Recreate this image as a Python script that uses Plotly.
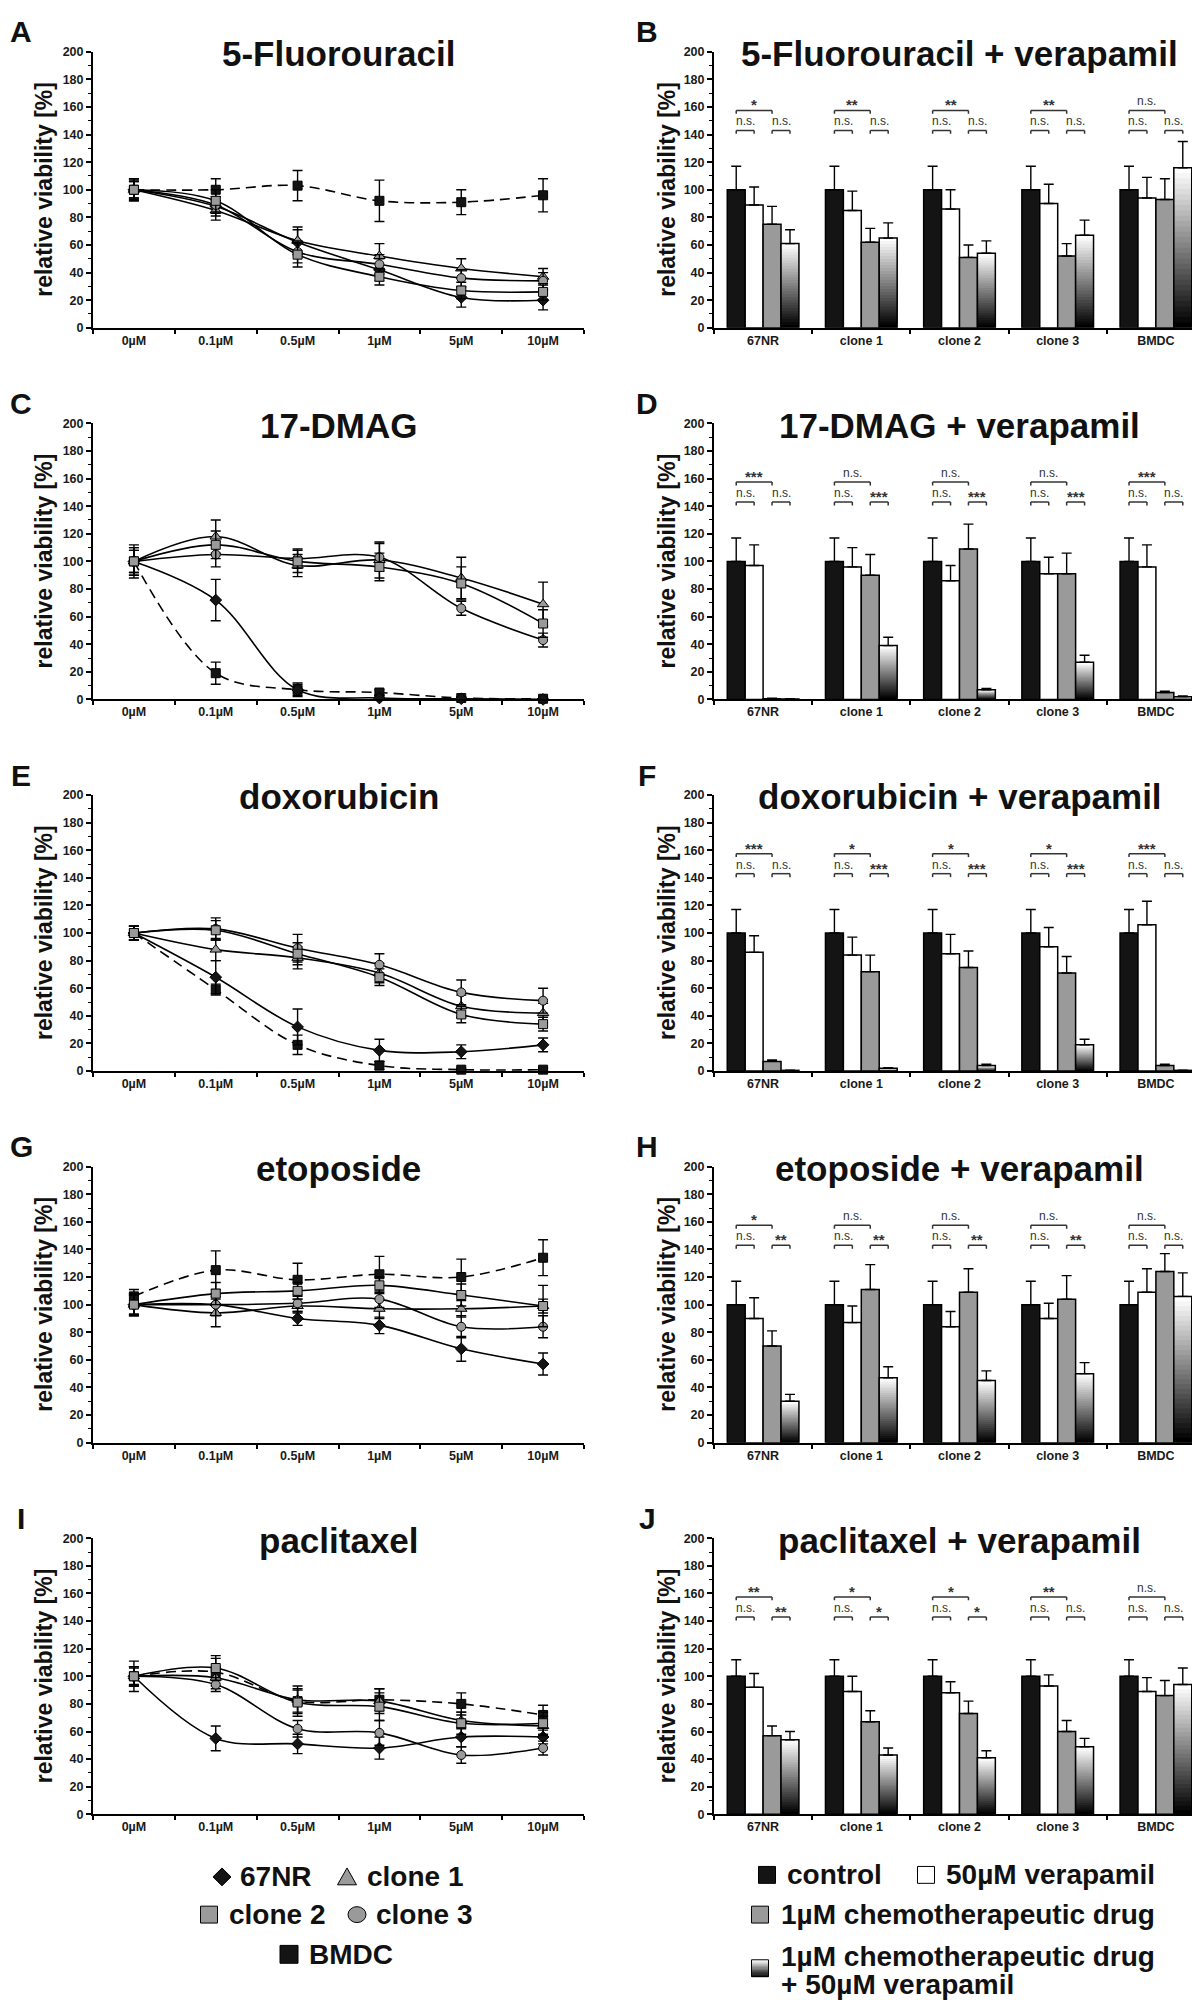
import plotly.graph_objects as go

W, H = 1200, 2000
FONT = "Liberation Sans"

# ------------------------------------------------------------------ data
DOSES = ["0µM", "0.1µM", "0.5µM", "1µM", "5µM", "10µM"]
CELL_LINES = ["67NR", "clone 1", "clone 2", "clone 3", "BMDC"]
TREATMENTS = ["control", "50µM verapamil", "1µM chemotherapeutic drug",
              "1µM chemotherapeutic drug + 50µM verapamil"]

# dose response: relative viability [%] (mean) and SD
FU_MEAN = {"67NR": [100, 88, 62, 42, 22, 20], "clone 1": [100, 85, 63, 52, 43, 37],
           "clone 2": [100, 92, 53, 37, 27, 26], "clone 3": [100, 89, 55, 46, 36, 34],
           "BMDC": [100, 100, 103, 92, 91, 96]}
FU_ERR = {"67NR": [6, 7, 9, 8, 7, 7], "clone 1": [7, 7, 10, 9, 7, 6],
          "clone 2": [8, 8, 9, 6, 6, 6], "clone 3": [6, 6, 8, 7, 6, 6],
          "BMDC": [8, 8, 11, 15, 9, 12]}

DMAG_MEAN = {"67NR": [100, 72, 7, 1, 0.5, 0], "clone 1": [100, 118, 97, 101, 88, 69],
             "clone 2": [100, 112, 100, 96, 84, 55], "clone 3": [100, 105, 102, 103, 66, 43],
             "BMDC": [100, 19, 7, 5, 1, 0.5]}
DMAG_ERR = {"67NR": [12, 15, 5, 2, 1, 1], "clone 1": [10, 12, 8, 13, 15, 16],
            "clone 2": [8, 10, 8, 10, 12, 10], "clone 3": [8, 9, 7, 10, 5, 5],
            "BMDC": [10, 8, 4, 2, 1, 1]}

DOXO_MEAN = {"67NR": [100, 68, 32, 15, 14, 19], "clone 1": [100, 88, 82, 71, 47, 42],
             "clone 2": [100, 102, 85, 68, 41, 34], "clone 3": [100, 103, 89, 77, 57, 51],
             "BMDC": [100, 59, 19, 4, 1, 1]}
DOXO_ERR = {"67NR": [5, 12, 13, 8, 5, 5], "clone 1": [5, 8, 8, 7, 8, 7],
            "clone 2": [5, 7, 8, 6, 6, 5], "clone 3": [5, 8, 10, 8, 9, 9],
            "BMDC": [5, 4, 7, 3, 1, 1]}

ETO_MEAN = {"67NR": [100, 100, 90, 85, 68, 57], "clone 1": [100, 94, 99, 97, 97, 99],
            "clone 2": [100, 108, 110, 114, 107, 99], "clone 3": [100, 100, 101, 104, 84, 84],
            "BMDC": [106, 125, 118, 122, 120, 134]}
ETO_ERR = {"67NR": [7, 6, 5, 6, 9, 8], "clone 1": [8, 10, 5, 7, 6, 5],
           "clone 2": [8, 8, 6, 6, 8, 15], "clone 3": [7, 8, 6, 6, 8, 8],
           "BMDC": [5, 14, 12, 13, 13, 13]}

PACLI_MEAN = {"67NR": [100, 55, 51, 48, 56, 56], "clone 1": [100, 99, 83, 82, 68, 64],
              "clone 2": [100, 106, 81, 78, 66, 66], "clone 3": [100, 94, 62, 59, 43, 48],
              "BMDC": [100, 103, 82, 83, 80, 72]}
PACLI_ERR = {"67NR": [11, 9, 7, 8, 7, 5], "clone 1": [7, 8, 10, 9, 6, 7],
             "clone 2": [7, 9, 10, 10, 8, 8], "clone 3": [6, 5, 6, 9, 6, 5],
             "BMDC": [7, 10, 8, 8, 8, 7]}

# verapamil combination bars (per cell line)
FU_VERA_MEAN = {"control": [100, 100, 100, 100, 100], "50µM verapamil": [89, 85, 86, 90, 94],
                "1µM chemotherapeutic drug": [75, 62, 51, 52, 93],
                "1µM chemotherapeutic drug + 50µM verapamil": [61, 65, 54, 67, 116]}
FU_VERA_ERR = {"control": [17, 17, 17, 17, 17], "50µM verapamil": [13, 14, 14, 14, 15],
               "1µM chemotherapeutic drug": [13, 10, 9, 9, 15],
               "1µM chemotherapeutic drug + 50µM verapamil": [10, 11, 9, 11, 19]}
FU_VERA_SIG = [("*", "n.s.", "n.s."), ("**", "n.s.", "n.s."), ("**", "n.s.", "n.s."),
               ("**", "n.s.", "n.s."), ("n.s.", "n.s.", "n.s.")]

DMAG_VERA_MEAN = {"control": [100, 100, 100, 100, 100], "50µM verapamil": [97, 96, 86, 91, 96],
                  "1µM chemotherapeutic drug": [0.5, 90, 109, 91, 5],
                  "1µM chemotherapeutic drug + 50µM verapamil": [0.3, 39, 7, 27, 2]}
DMAG_VERA_ERR = {"control": [17, 17, 17, 17, 17], "50µM verapamil": [15, 14, 11, 12, 16],
                 "1µM chemotherapeutic drug": [0.3, 15, 18, 15, 1],
                 "1µM chemotherapeutic drug + 50µM verapamil": [0.2, 6, 1, 5, 0.5]}
DMAG_VERA_SIG = [("***", "n.s.", "n.s."), ("n.s.", "n.s.", "***"), ("n.s.", "n.s.", "***"),
                 ("n.s.", "n.s.", "***"), ("***", "n.s.", "n.s.")]

DOXO_VERA_MEAN = {"control": [100, 100, 100, 100, 100], "50µM verapamil": [86, 84, 85, 90, 106],
                  "1µM chemotherapeutic drug": [7, 72, 75, 71, 4],
                  "1µM chemotherapeutic drug + 50µM verapamil": [0.5, 2, 4, 19, 0.5]}
DOXO_VERA_ERR = {"control": [17, 17, 17, 17, 17], "50µM verapamil": [12, 13, 14, 14, 17],
                 "1µM chemotherapeutic drug": [1, 12, 12, 12, 1],
                 "1µM chemotherapeutic drug + 50µM verapamil": [0.2, 0.5, 1, 4, 0.2]}
DOXO_VERA_SIG = [("***", "n.s.", "n.s."), ("*", "n.s.", "***"), ("*", "n.s.", "***"),
                 ("*", "n.s.", "***"), ("***", "n.s.", "n.s.")]

ETO_VERA_MEAN = {"control": [100, 100, 100, 100, 100], "50µM verapamil": [90, 87, 84, 90, 109],
                 "1µM chemotherapeutic drug": [70, 111, 109, 104, 124],
                 "1µM chemotherapeutic drug + 50µM verapamil": [30, 47, 45, 50, 106]}
ETO_VERA_ERR = {"control": [17, 17, 17, 17, 17], "50µM verapamil": [15, 12, 11, 11, 17],
                "1µM chemotherapeutic drug": [11, 18, 17, 17, 13],
                "1µM chemotherapeutic drug + 50µM verapamil": [5, 8, 7, 8, 17]}
ETO_VERA_SIG = [("*", "n.s.", "**"), ("n.s.", "n.s.", "**"), ("n.s.", "n.s.", "**"),
                ("n.s.", "n.s.", "**"), ("n.s.", "n.s.", "n.s.")]

PACLI_VERA_MEAN = {"control": [100, 100, 100, 100, 100], "50µM verapamil": [92, 89, 88, 93, 89],
                   "1µM chemotherapeutic drug": [57, 67, 73, 60, 86],
                   "1µM chemotherapeutic drug + 50µM verapamil": [54, 43, 41, 49, 94]}
PACLI_VERA_ERR = {"control": [12, 12, 12, 12, 12], "50µM verapamil": [10, 11, 8, 8, 10],
                  "1µM chemotherapeutic drug": [7, 8, 9, 8, 11],
                  "1µM chemotherapeutic drug + 50µM verapamil": [6, 5, 5, 6, 12]}
PACLI_VERA_SIG = [("**", "n.s.", "**"), ("*", "n.s.", "*"), ("*", "n.s.", "*"),
                  ("**", "n.s.", "n.s."), ("n.s.", "n.s.", "n.s.")]

LINE_TITLES = ["5-Fluorouracil", "17-DMAG", "doxorubicin", "etoposide", "paclitaxel"]
LETTERS = ["A", "B", "C", "D", "E", "F", "G", "H", "I", "J"]

LINE_PANELS = [(FU_MEAN, FU_ERR), (DMAG_MEAN, DMAG_ERR), (DOXO_MEAN, DOXO_ERR),
               (ETO_MEAN, ETO_ERR), (PACLI_MEAN, PACLI_ERR)]
BAR_PANELS = [(FU_VERA_MEAN, FU_VERA_ERR, FU_VERA_SIG),
              (DMAG_VERA_MEAN, DMAG_VERA_ERR, DMAG_VERA_SIG),
              (DOXO_VERA_MEAN, DOXO_VERA_ERR, DOXO_VERA_SIG),
              (ETO_VERA_MEAN, ETO_VERA_ERR, ETO_VERA_SIG),
              (PACLI_VERA_MEAN, PACLI_VERA_ERR, PACLI_VERA_SIG)]

# ------------------------------------------------------------------ style
GREY = "#9a9a9a"
DARK = "#141414"
STYLE = {
    "67NR": dict(symbol="diamond", fill=DARK, size=9, dash="solid"),
    "clone 1": dict(symbol="triangle-up", fill=GREY, size=10, dash="solid"),
    "clone 2": dict(symbol="square", fill=GREY, size=9, dash="solid"),
    "clone 3": dict(symbol="circle", fill=GREY, size=9, dash="solid"),
    "BMDC": dict(symbol="square", fill=DARK, size=9, dash="10px,6px"),
}
BAR_FILL = {"control": DARK, "50µM verapamil": "white", "1µM chemotherapeutic drug": GREY}
BARGAP = 0.27
N_SEG = 30

X_DOM = [(85, 576), (706, 1197)]
ROW_TOP0, ROW_BOT0, ROW_STEP = 37, 315, 374.25


def px(x):
    return x / W


def py(y):
    return 1 - y / H


def gray(level):
    v = int(round(255 * level))
    return f"rgb({v},{v},{v})"


fig = go.Figure()
shapes, annotations = [], []
layout = dict(width=W, height=H, margin=dict(l=0, r=0, t=0, b=0),
              paper_bgcolor="white", plot_bgcolor="white", showlegend=False,
              barmode="group", bargap=BARGAP, bargroupgap=0,
              font=dict(family=FONT, color="#1a1a1a"))

TICKFONT = dict(family=FONT, size=12.5, color="#1a1a1a", weight="bold")


def paper_text(txt, x, y, size, angle=0, xanchor="center"):
    annotations.append(dict(text=txt, x=px(x), y=py(y), xref="paper", yref="paper",
                            xanchor=xanchor, yanchor="middle", textangle=angle,
                            showarrow=False, borderpad=0,
                            font=dict(size=size, family=FONT, weight="bold", color="#111")))


for p in range(10):
    r, c = divmod(p, 2)
    top = ROW_TOP0 + r * ROW_STEP
    bot = ROW_BOT0 + r * ROW_STEP
    sfx = "" if p == 0 else str(p + 1)
    cats = DOSES if c == 0 else CELL_LINES
    layout["xaxis" + sfx] = dict(
        domain=[px(X_DOM[c][0]), px(X_DOM[c][1])], anchor="y" + sfx, type="category",
        categoryorder="array", categoryarray=cats, range=[-0.5, len(cats) - 0.5],
        tickson="boundaries", ticks="outside", ticklen=4, tickwidth=1.5, tickcolor="black",
        showline=True, linewidth=2, linecolor="black", showgrid=False, zeroline=False,
        tickfont=TICKFONT, fixedrange=True)
    layout["yaxis" + sfx] = dict(
        domain=[py(bot), py(top)], anchor="x" + sfx, range=[0, 200],
        tick0=0, dtick=20, ticks="outside", ticklen=5, tickwidth=1.5, tickcolor="black",
        minor=dict(dtick=10, ticks="outside", ticklen=3, tickwidth=1.2, tickcolor="black",
                   showgrid=False),
        showline=True, linewidth=2, linecolor="black", showgrid=False, zeroline=False,
        tickfont=TICKFONT, fixedrange=True)

    paper_text(LETTERS[p], 13 if c == 0 else 639, top - 20, 30)
    title = LINE_TITLES[r] if c == 0 else LINE_TITLES[r] + " + verapamil"
    paper_text(title, (X_DOM[c][0] + X_DOM[c][1]) / 2, top + 2, 35)
    paper_text("relative viability [%]", 36 if c == 0 else 659, (top + bot) / 2, 23, angle=-90)

# ------------------------------------------------------------------ line panels
for r, (mean, err) in enumerate(LINE_PANELS):
    sfx = "" if r == 0 else str(2 * r + 1)
    for name in ["BMDC", "67NR", "clone 1", "clone 3", "clone 2"]:
        st = STYLE[name]
        fig.add_trace(go.Scatter(
            x=DOSES, y=mean[name], name=name, mode="lines+markers",
            line=dict(color="black", width=1.6, shape="spline", smoothing=1.0, dash=st["dash"]),
            marker=dict(symbol=st["symbol"], size=st["size"], color=st["fill"],
                        line=dict(color="black", width=1)),
            error_y=dict(type="data", array=err[name], visible=True, color="black",
                         thickness=1.4, width=5),
            xaxis="x" + sfx, yaxis="y" + sfx, cliponaxis=False))

# ------------------------------------------------------------------ bar panels
G = 1 - BARGAP
SLOT = G / 4
BR_LOW, BR_TOP, BR_DROP = 143, 157.5, 2.5

for r, (mean, err, sig) in enumerate(BAR_PANELS):
    sfx = str(2 * r + 2)
    xa, ya = "x" + sfx, "y" + sfx
    for j, t in enumerate(TREATMENTS[:3]):
        fig.add_trace(go.Bar(
            x=CELL_LINES, y=mean[t], name=t, offsetgroup=str(j),
            marker=dict(color=BAR_FILL[t], line=dict(color="black", width=1.5)),
            error_y=dict(type="data", symmetric=False, array=err[t],
                         arrayminus=[0] * len(CELL_LINES), color="black", thickness=1.4, width=5),
            xaxis=xa, yaxis=ya))
    combo = TREATMENTS[3]
    vals = mean[combo]
    # vertical gradient: stacked slices, black at the base, white at the top.
    for s in range(N_SEG):
        fig.add_trace(go.Bar(
            x=CELL_LINES, y=[v * (N_SEG - s) / N_SEG for v in vals],
            base=[v * s / N_SEG for v in vals],
            offsetgroup="3", marker=dict(color=gray(s / (N_SEG - 1)), line=dict(width=0)),
            hoverinfo="skip", xaxis=xa, yaxis=ya))
    fig.add_trace(go.Bar(
        x=CELL_LINES, y=vals, name=combo, offsetgroup="3",
        marker=dict(color="rgba(0,0,0,0)", line=dict(color="black", width=1.5)),
        error_y=dict(type="data", symmetric=False, array=err[combo],
                     arrayminus=[0] * len(CELL_LINES), color="black", thickness=1.4, width=5),
        xaxis=xa, yaxis=ya))

    # significance brackets
    for i, (s_top, s_left, s_right) in enumerate(sig):
        cx = [i - G / 2 + SLOT * (k + 0.5) for k in range(4)]
        for (a, b, yv, txt) in [(cx[0], cx[2], BR_TOP, s_top), (cx[0], cx[1], BR_LOW, s_left),
                                (cx[2], cx[3], BR_LOW, s_right)]:
            for (x0, y0, x1, y1) in [(a, yv, b, yv), (a, yv, a, yv - BR_DROP),
                                     (b, yv, b, yv - BR_DROP)]:
                shapes.append(dict(type="line", xref=xa, yref=ya, x0=x0, y0=y0, x1=x1, y1=y1,
                                   line=dict(color="#333", width=1.5)))
            star = txt.startswith("*")
            annotations.append(dict(
                text=txt, x=(a + b) / 2, y=yv, xref=xa, yref=ya, showarrow=False,
                xanchor="center", yanchor="bottom", borderpad=0, yshift=-4 if star else 1,
                font=dict(size=15 if star else 12, family=FONT, color="#333",
                          weight="bold" if star else "normal")))

# ------------------------------------------------------------------ legends
LEG = 28


def rect(cx, cy, s, fill, lw=1):
    shapes.append(dict(type="rect", xref="paper", yref="paper",
                       x0=px(cx - s / 2), x1=px(cx + s / 2), y0=py(cy + s / 2), y1=py(cy - s / 2),
                       fillcolor=fill, line=dict(color="black", width=lw)))


def poly(points, fill):
    path = "M " + " L ".join(f"{px(a):.5f},{py(b):.5f}" for a, b in points) + " Z"
    shapes.append(dict(type="path", xref="paper", yref="paper", path=path,
                       fillcolor=fill, line=dict(color="black", width=1)))


# cell-line legend
poly([(214, 1866), (223, 1875), (214, 1884), (205, 1875)], DARK)
paper_text("67NR", 231, 1875, LEG, xanchor="left")
poly([(339, 1866), (348.5, 1883), (329.5, 1883)], GREY)
paper_text("clone 1", 358, 1875, LEG, xanchor="left")
rect(201, 1913, 17, GREY)
paper_text("clone 2", 220, 1913, LEG, xanchor="left")
shapes.append(dict(type="circle", xref="paper", yref="paper", x0=px(340), x1=px(358),
                   y0=py(1921), y1=py(1905), fillcolor=GREY, line=dict(color="black", width=1)))
paper_text("clone 3", 367, 1913, LEG, xanchor="left")
rect(281, 1953, 18, DARK)
paper_text("BMDC", 300, 1953, LEG, xanchor="left")

# treatment legend
rect(759, 1873, 17, DARK)
paper_text("control", 778, 1873, LEG, xanchor="left")
rect(918, 1873, 17, "white")
paper_text("50µM verapamil", 937, 1873, LEG, xanchor="left")
rect(752, 1913, 17, GREY)
paper_text("1µM chemotherapeutic drug", 772, 1913, LEG, xanchor="left")
n_leg = 14
for s in range(n_leg):
    y_top = 1958.5 + 17 * s / n_leg
    shapes.append(dict(type="rect", xref="paper", yref="paper", x0=px(743.5), x1=px(760.5),
                       y0=py(y_top + 17 / n_leg + 0.4), y1=py(y_top),
                       fillcolor=gray(1 - s / (n_leg - 1)), line=dict(width=0)))
shapes.append(dict(type="rect", xref="paper", yref="paper", x0=px(743.5), x1=px(760.5),
                   y0=py(1975.5), y1=py(1958.5), line=dict(color="black", width=1)))
paper_text("1µM chemotherapeutic drug", 772, 1955, LEG, xanchor="left")
paper_text("+ 50µM verapamil", 772, 1983, LEG, xanchor="left")

layout["shapes"] = shapes
layout["annotations"] = annotations
fig.update_layout(**layout)
fig.write_html("out.html")
